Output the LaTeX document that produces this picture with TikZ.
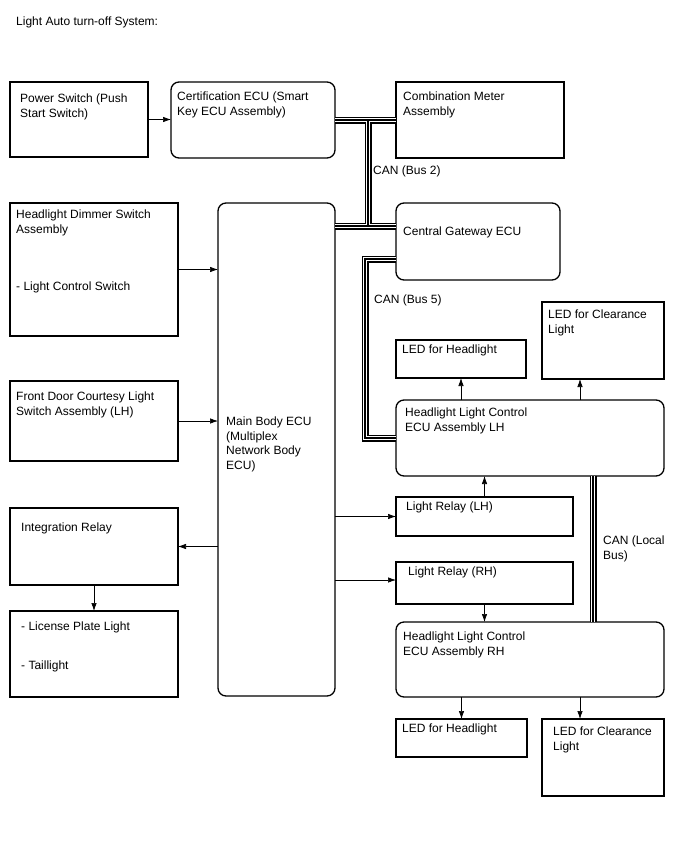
\documentclass[tikz,border=0pt]{standalone}
\usepackage{fontspec}
\setmainfont{Liberation Sans}
\usetikzlibrary{arrows.meta}

\begin{document}
\begin{tikzpicture}[
    x=1pt, y=-1pt,
    box/.style={rectangle, draw=black, line width=1.3pt, anchor=north west, inner sep=0pt, outer sep=0pt},
    ecu/.style={box, rounded corners=8pt},
    txt/.style={anchor=north west, align=left, inner sep=0pt, font=\fontsize{12}{14.4}\selectfont},
    off/.style 2 args={xshift=#1pt, yshift=-#2pt},
    arrow/.style={-{Latex[length=8pt, width=5.5pt]}, line width=0.7pt},
    bus/.style={draw=white, line width=4pt, preaction={draw=black, line width=7pt}, postaction={draw=black, line width=1.5pt}}
]
\useasboundingbox (0,0) rectangle (688,852);

\node (title) [txt] at (16,17) {Light Auto turn-off System:};

% left column
\node (pwr) [box, minimum width=138, minimum height=75, label={[txt, off={10}{12}]north west:Power Switch (Push\\Start Switch)}] at (10,82) {};
\node (dim) [box, minimum width=168, minimum height=133, label={[txt, off={6}{7}]north west:Headlight Dimmer Switch\\Assembly\\[42.6pt]- Light Control Switch}] at (10,203) {};
\node (door) [box, minimum width=168, minimum height=80, label={[txt, off={6}{11}]north west:Front Door Courtesy Light\\Switch Assembly (LH)}] at (10,381) {};
\node (integ) [box, minimum width=168, minimum height=77, label={[txt, off={11}{15}]north west:Integration Relay}] at (10,508) {};
\node (lic) [box, minimum width=168, minimum height=86, label={[txt, off={11}{11}]north west:- License Plate Light\\[24.6pt]- Taillight}] at (10,611) {};

% middle column
\node (cert) [ecu, minimum width=164, minimum height=76, label={[txt, off={6}{10}]north west:Certification ECU (Smart\\Key ECU Assembly)}] at (171,82) {};
\node (main) [ecu, minimum width=117, minimum height=493, label={[txt, off={8}{214}]north west:Main Body ECU\\(Multiplex\\Network Body\\ECU)}] at (218,203) {};

% right column
\node (comb) [box, minimum width=168, minimum height=76, label={[txt, off={7}{10}]north west:Combination Meter\\Assembly}] at (396,82) {};
\node (gw) [ecu, minimum width=164, minimum height=77, label={[txt, off={7}{24}]north west:Central Gateway ECU}] at (396,203) {};
\node (ledh1) [box, minimum width=130, minimum height=38, label={[txt, off={6}{5}]north west:LED for Headlight}] at (396,340) {};
\node (ledc1) [box, minimum width=122, minimum height=77, label={[txt, off={6}{8}]north west:LED for Clearance\\Light}] at (542,302) {};
\node (hlh) [ecu, minimum width=268, minimum height=76, label={[txt, off={9}{8}]north west:Headlight Light Control\\ECU Assembly LH}] at (396,400) {};
\node (rlh) [box, minimum width=177, minimum height=39, label={[txt, off={10}{5}]north west:Light Relay (LH)}] at (396,497) {};
\node (rrh) [box, minimum width=177, minimum height=42, label={[txt, off={12}{5}]north west:Light Relay (RH)}] at (396,562) {};
\node (hrh) [ecu, minimum width=268, minimum height=75, label={[txt, off={7}{10}]north west:Headlight Light Control\\ECU Assembly RH}] at (396,622) {};
\node (ledh2) [box, minimum width=131, minimum height=38, label={[txt, off={6}{5}]north west:LED for Headlight}] at (396,719) {};
\node (ledc2) [box, minimum width=122, minimum height=77, label={[txt, off={11}{8}]north west:LED for Clearance\\Light}] at (542,719) {};

% CAN buses
\coordinate (b2) at (368,226);
\coordinate (b5) at (365,259);
\coordinate (lb) at (593,550);
\draw[bus] (cert.east) -- (comb.west) (b2 |- cert.east) -- (b2) (main.east |- b2) -- (gw.west |- b2);
\draw[bus] (gw.west |- b5) -- (b5) |- (hlh.west);
\draw[bus] (hlh.south -| lb) -- (hrh.north -| lb);
\node (can2) [txt] at (373,166) {CAN (Bus 2)};
\node (can5) [txt] at (374,295) {CAN (Bus 5)};
\node (canl) [txt] at (603,536) {CAN (Local\\Bus)};

% signals
\draw[arrow] (pwr.east) -- (pwr.east -| cert.west);
\draw[arrow] (dim.east) -- (dim.east -| main.west);
\draw[arrow] (door.east) -- (door.east -| main.west);
\draw[arrow] (main.west |- integ.east) -- (integ.east);
\draw[arrow] (integ.south) -- (lic.north);
\draw[arrow] (main.east |- rlh.west) -- (rlh.west);
\draw[arrow] ([yshift=3pt]main.east |- rrh.west) -- ([yshift=3pt]rrh.west);
\draw[arrow] (rlh.north) -- (rlh.north |- hlh.south);
\draw[arrow] (rrh.south) -- (rrh.south |- hrh.north);
\draw[arrow] (ledh1.south |- hlh.north) -- (ledh1.south);
\draw[arrow] ([xshift=-23pt]ledc1.south |- hlh.north) -- ([xshift=-23pt]ledc1.south);
\draw[arrow] (ledh2.north |- hrh.south) -- (ledh2.north);
\draw[arrow] ([xshift=-23pt]ledc2.north |- hrh.south) -- ([xshift=-23pt]ledc2.north);
\end{tikzpicture}
\end{document}
